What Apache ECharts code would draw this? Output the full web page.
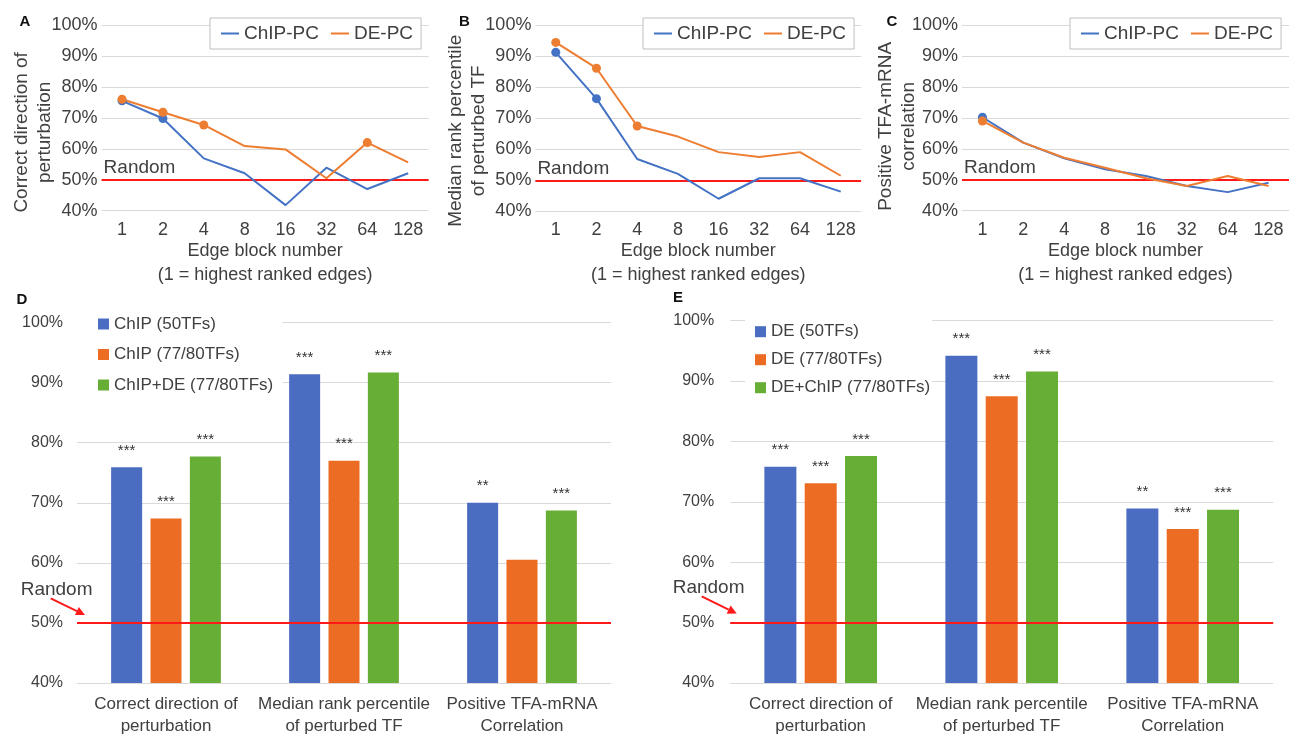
<!DOCTYPE html>
<html><head><meta charset="utf-8">
<script src="https://cdn.jsdelivr.net/npm/echarts@6/dist/echarts.min.js"></script>
<style>html,body{margin:0;padding:0;background:#fff}#c{width:1294px;height:737px}</style>
</head><body><div id="c"></div>
<script>
// ---------- data ----------
const blocks = ['1', '2', '4', '8', '16', '32', '64', '128'];
const chipA = [75.5, 69.8, 56.9, 52.1, 41.8, 53.9, 47.0, 52.1];
const deA   = [76.0, 71.8, 67.7, 60.9, 59.8, 50.5, 62.0, 55.6];
const chipB = [91.2, 76.3, 56.9, 52.1, 44.1, 50.7, 50.7, 46.4];
const deB   = [94.4, 86.1, 67.5, 64.1, 59.1, 57.5, 59.1, 51.5];
const chipC = [70.2, 62.0, 56.9, 53.4, 51.2, 48.0, 46.0, 49.0];
const deC   = [69.0, 62.0, 57.1, 53.9, 50.5, 48.0, 51.2, 48.0];
// points drawn with a dot (1 = dot)
const dotChipA = [1, 1, 0, 0, 0, 0, 0, 0];
const dotDeA   = [1, 1, 1, 0, 0, 0, 1, 0];
const dotChipB = [1, 1, 0, 0, 0, 0, 0, 0];
const dotDeB   = [1, 1, 1, 0, 0, 0, 0, 0];
const dotChipC = [1, 0, 0, 0, 0, 0, 0, 0];
const dotDeC   = [1, 0, 0, 0, 0, 0, 0, 0];
const lineNames = ['ChIP-PC', 'DE-PC'];
const yTitles = ['Correct direction of\nperturbation', 'Median rank percentile\nof perturbed TF', 'Positive TFA-mRNA\ncorrelation'];
const xTitle = 'Edge block number\n(1 = highest ranked edges)';

const barCats = ['Correct direction of\nperturbation', 'Median rank percentile\nof perturbed TF', 'Positive TFA-mRNA\nCorrelation'];
const namesD = ['ChIP (50TFs)', 'ChIP (77/80TFs)', 'ChIP+DE (77/80TFs)'];
const chip50   = [75.9, 91.4, 70.0];
const chip77   = [67.4, 77.0, 60.5];
const chipDe77 = [77.7, 91.7, 68.7];
const sigChip50   = ['***', '***', '**'];
const sigChip77   = ['***', '***', ''];
const sigChipDe77 = ['***', '***', '***'];
const namesE = ['DE (50TFs)', 'DE (77/80TFs)', 'DE+ChIP (77/80TFs)'];
const de50     = [75.8, 94.2, 68.9];
const de77     = [73.1, 87.5, 65.5];
const deChip77 = [77.6, 91.6, 68.7];
const sigDe50     = ['***', '***', '**'];
const sigDe77     = ['***', '***', '***'];
const sigDeChip77 = ['***', '***', '***'];
const randomLevel = 50;
const panelLetters = ['A', 'B', 'C', 'D', 'E'];

// ---------- style / layout ----------
const FONT = '"Liberation Sans", Arial, Helvetica, sans-serif';
const TXT = '#404040';
const BLUE = '#4472C4', ORANGE = '#ED7D31';
const BAR_BLUE = '#4A6DC1', BAR_ORANGE = '#EC6C24', BAR_GREEN = '#66AE35';
const RED = '#FF1A1A';
const G = [
  {left: 101.6, top: 25, width: 327, height: 185.7},
  {left: 535.4, top: 25, width: 325.7, height: 186.5},
  {left: 962, top: 25, width: 327, height: 185.7},
  {left: 77, top: 322.6, width: 534, height: 363.1},
  {left: 730.2, top: 320.7, width: 543, height: 362.6}
];
const letterPos = [[19.5, 14.5], [459, 14.5], [886.5, 14.5], [16.5, 292.5], [673, 290.5]];
const legendLeft = [210, 643, 1070];
const yNamePad = [29, 25, 17];
const yNameGap = [45, 45, 42];

const chart = echarts.init(document.getElementById('c'), null, {renderer: 'canvas'});

const xAxis = [], yAxis = [], series = [], legend = [];
const lineSets = [[chipA, deA, dotChipA, dotDeA], [chipB, deB, dotChipB, dotDeB], [chipC, deC, dotChipC, dotDeC]];

for (let i = 0; i < 3; i++) {
  xAxis.push({
    type: 'category', gridIndex: i, data: blocks, boundaryGap: true,
    axisLine: {show: false}, axisTick: {show: false},
    axisLabel: {interval: 0, fontSize: 18, color: TXT, margin: 10, fontFamily: FONT},
    name: xTitle, nameLocation: 'middle', nameGap: 28, nameMoveOverlap: false,
    nameTextStyle: {fontSize: 18, color: TXT, lineHeight: 24, fontFamily: FONT}
  });
  yAxis.push({
    type: 'value', gridIndex: i, min: 40, max: 100, interval: 10,
    axisLine: {show: false}, axisTick: {show: false},
    axisLabel: {formatter: '{value}%', fontSize: 18, color: TXT, margin: 4, fontFamily: FONT},
    splitLine: {lineStyle: {color: '#d9d9d9', width: 1}},
    name: yTitles[i], nameLocation: 'middle', nameRotate: 90, nameGap: yNameGap[i], nameMoveOverlap: false,
    nameTextStyle: {fontSize: 19, color: TXT, lineHeight: 23, fontFamily: FONT, padding: [0, yNamePad[i], 0, 0]}
  });
  const [c, d, dc, dd] = lineSets[i];
  series.push({
    type: 'line', name: lineNames[0], xAxisIndex: i, yAxisIndex: i,
    data: c.map((v, k) => ({value: v, symbolSize: dc[k] ? 9 : 0})),
    symbol: 'circle', showSymbol: true, color: BLUE,
    lineStyle: {width: 2, color: BLUE}, itemStyle: {color: BLUE},
    markLine: {
      silent: true, symbol: 'none', z: 1,
      lineStyle: {color: RED, width: 2, type: 'solid'},
      label: {show: true, position: 'insideStartTop', formatter: 'Random', fontSize: 19, color: TXT, fontFamily: FONT, distance: [2, 2]},
      data: [{yAxis: randomLevel}]
    }
  });
  series.push({
    type: 'line', name: lineNames[1], xAxisIndex: i, yAxisIndex: i,
    data: d.map((v, k) => ({value: v, symbolSize: dd[k] ? 9 : 0})),
    symbol: 'circle', showSymbol: true, color: ORANGE,
    lineStyle: {width: 2, color: ORANGE}, itemStyle: {color: ORANGE}
  });
  legend.push({
    data: lineNames, left: legendLeft[i], top: 18, orient: 'horizontal',
    icon: 'rect', itemWidth: 18, itemHeight: 2, itemGap: 12,
    padding: [6, 8, 6, 11], borderColor: '#bfbfbf', borderWidth: 1,
    backgroundColor: '#fff', selectedMode: false,
    textStyle: {fontSize: 19, color: TXT, fontFamily: FONT}
  });
}

const barSets = [
  {names: namesD, vals: [chip50, chip77, chipDe77], sigs: [sigChip50, sigChip77, sigChipDe77], bw: 31, gap: '27%'},
  {names: namesE, vals: [de50, de77, deChip77], sigs: [sigDe50, sigDe77, sigDeChip77], bw: 32, gap: '26%'}
];
const barColors = [BAR_BLUE, BAR_ORANGE, BAR_GREEN];
for (let j = 0; j < 2; j++) {
  const gi = 3 + j;
  const bs = barSets[j];
  xAxis.push({
    type: 'category', gridIndex: gi, data: barCats,
    axisLine: {show: false}, axisTick: {show: false},
    axisLabel: {interval: 0, fontSize: 17, color: TXT, margin: 10, lineHeight: 22, fontFamily: FONT}
  });
  yAxis.push({
    type: 'value', gridIndex: gi, min: 40, max: 100, interval: 10,
    axisLine: {show: false}, axisTick: {show: false},
    axisLabel: {formatter: '{value}%', fontSize: 16, color: TXT, margin: j === 0 ? 14 : 16, fontFamily: FONT},
    splitLine: {lineStyle: {color: '#d9d9d9', width: 1}}
  });
  for (let s = 0; s < 3; s++) {
    const sig = bs.sigs[s];
    const ser = {
      type: 'bar', name: bs.names[s], xAxisIndex: gi, yAxisIndex: gi,
      data: bs.vals[s], barWidth: bs.bw, barGap: bs.gap,
      itemStyle: {color: barColors[s]},
      label: {show: true, position: 'top', distance: 9, fontSize: 15, color: '#333', fontFamily: FONT,
        formatter: p => sig[p.dataIndex]}
    };
    if (s === 2) {
      ser.markLine = {
        silent: true, symbol: 'none', z: 10,
        lineStyle: {color: RED, width: 2, type: 'solid'},
        label: {show: false},
        data: [{yAxis: randomLevel}]
      };
    }
    series.push(ser);
  }
}
legend.push({
  data: namesD, orient: 'vertical', left: 76, top: 307.5, icon: 'rect',
  itemWidth: 11, itemHeight: 11, itemGap: 13.5, padding: [8, 9, 8, 22],
  backgroundColor: '#fff', selectedMode: false,
  textStyle: {fontSize: 17, color: TXT, lineHeight: 17, fontFamily: FONT}
});
legend.push({
  data: namesE, orient: 'vertical', left: 745, top: 317.2, icon: 'rect',
  itemWidth: 11, itemHeight: 11, itemGap: 11, padding: [6, 2, 6, 10],
  backgroundColor: '#fff', selectedMode: false,
  textStyle: {fontSize: 17, color: TXT, lineHeight: 17, fontFamily: FONT}
});

const title = panelLetters.map((t, i) => ({
  text: t, left: letterPos[i][0], top: letterPos[i][1], padding: 0,
  textStyle: {fontSize: 15, fontWeight: 'bold', color: '#111', fontFamily: FONT}
}));

chart.setOption({
  animation: false,
  backgroundColor: '#fff',
  textStyle: {fontFamily: FONT},
  title, grid: G, xAxis, yAxis, legend, series
});

// "Random" annotation with arrow for panels D and E
function arrow(x1, y1, x2, y2) {
  const dx = x2 - x1, dy = y2 - y1, L = Math.hypot(dx, dy);
  const ux = dx / L, uy = dy / L, px = -uy, py = ux;
  const hl = 9, hw = 4.5;
  const bx = x2 - ux * hl, by = y2 - uy * hl;
  return [
    {type: 'line', shape: {x1, y1, x2: bx, y2: by}, style: {stroke: RED, lineWidth: 2}, silent: true, z: 20},
    {type: 'polygon', shape: {points: [[x2, y2], [bx + px * hw, by + py * hw], [bx - px * hw, by - py * hw]]}, style: {fill: RED}, silent: true, z: 20}
  ];
}
const graphic = [];
const ann = [
  {gi: 3, tx: -56.3, ty: -33.5, a: [-26.3, -24.5, 8, -8]},
  {gi: 4, tx: -57.5, ty: -35, a: [-28.5, -26.3, 6.5, -9]}
];
ann.forEach(o => {
  const y50 = chart.convertToPixel({yAxisIndex: o.gi}, randomLevel);
  const gl = G[o.gi].left;
  graphic.push({type: 'text', x: gl + o.tx, y: y50 + o.ty, silent: true, z: 20,
    style: {text: 'Random', fontSize: 19, fontFamily: FONT, fill: TXT, verticalAlign: 'middle', align: 'left'}});
  graphic.push(...arrow(gl + o.a[0], y50 + o.a[1], gl + o.a[2], y50 + o.a[3]));
});
chart.setOption({graphic});
</script>
</body></html>
